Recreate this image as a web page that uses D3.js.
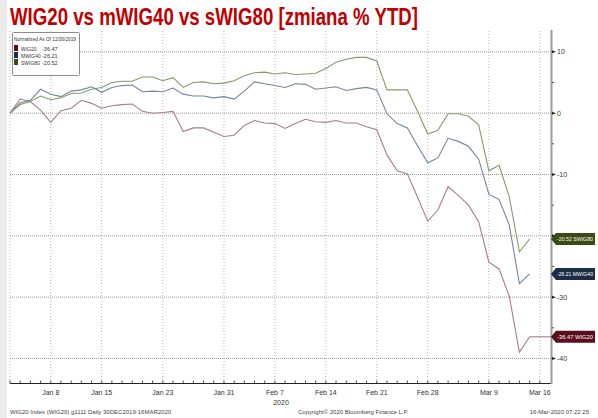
<!DOCTYPE html>
<html>
<head>
<meta charset="utf-8">
<script src="https://cdn.jsdelivr.net/npm/d3@7"></script>
<style>
  body { margin: 0; background: #fff; }
  svg { display: block; font-family: "Liberation Sans", Arial, sans-serif; }
</style>
</head>
<body>
<svg id="chart" width="598" height="418"></svg>
<script>
// trading days (GPW), normalized to 30 Dec 2019
var dates = ["2019-12-30","2020-01-02","2020-01-03","2020-01-07","2020-01-08","2020-01-09","2020-01-10",
  "2020-01-13","2020-01-14","2020-01-15","2020-01-16","2020-01-17",
  "2020-01-20","2020-01-21","2020-01-22","2020-01-23","2020-01-24",
  "2020-01-27","2020-01-28","2020-01-29","2020-01-30","2020-01-31",
  "2020-02-03","2020-02-04","2020-02-05","2020-02-06","2020-02-07",
  "2020-02-10","2020-02-11","2020-02-12","2020-02-13","2020-02-14",
  "2020-02-17","2020-02-18","2020-02-19","2020-02-20","2020-02-21",
  "2020-02-24","2020-02-25","2020-02-26","2020-02-27","2020-02-28",
  "2020-03-02","2020-03-03","2020-03-04","2020-03-05","2020-03-06",
  "2020-03-09","2020-03-10","2020-03-11","2020-03-12","2020-03-13","2020-03-16"];

var wig20 = [0, 2.3, 1.9, 0.5, -1.5, 0.4, 0.8, 2.1, 1.6, 0.8, 1.2, 1.4, 1.5, 0.3, 0.0, 0.1, 0.3,
  -3.0, -2.4, -2.4, -3.1, -3.8, -3.6, -2.0, -1.2, -1.6, -1.7, -2.5, -1.7, -1.0, -1.4, -1.5,
  -1.2, -1.6, -1.6, -2.2, -2.7, -6.8, -9.4, -9.9, -13.7, -17.6, -15.8, -12.0, -13.4, -15.0,
  -17.7, -24.3, -25.4, -29.8, -39.0, -36.47];
var mwig40 = [0, 1.7, 2.1, 3.9, 3.1, 2.7, 3.6, 3.8, 4.3, 3.4, 4.2, 4.5, 4.6, 3.5, 3.6, 3.5, 4.1,
  3.1, 2.8, 2.8, 2.5, 2.7, 2.3, 3.6, 5.1, 4.8, 4.5, 4.2, 4.8, 4.7, 3.9, 4.1, 4.3, 3.7, 4.0,
  4.2, 3.8, -0.1, -1.7, -2.4, -5.3, -8.1, -7.3, -4.1, -4.6, -5.4, -7.5, -13.2, -14.1, -18.2,
  -27.8, -26.21];
var swig80 = [0, 1.4, 1.9, 2.8, 2.2, 2.5, 3.2, 3.3, 3.9, 4.2, 5.0, 5.2, 5.2, 5.9, 5.9, 5.3, 5.8,
  4.2, 5.0, 5.1, 4.8, 4.9, 5.3, 6.1, 6.6, 6.7, 6.4, 6.6, 6.3, 6.4, 6.5, 7.3, 8.3, 8.8, 9.1,
  9.1, 8.5, 3.8, 3.8, 3.8, 0.3, -3.4, -2.8, -0.1, -0.1, -0.5, -1.9, -9.4, -8.5, -13.6,
  -22.6, -20.52];

var seriesNames = ["WIG20", "MWIG40", "SWIG80"];
var seriesData = [wig20, mwig40, swig80];
var lineColors = ["#a97b8b", "#72869c", "#849a6c"];
var flagColors = ["#5b0c1d", "#1b2c45", "#3a4a12"];

var tickDates = ["2020-01-08","2020-01-15","2020-01-23","2020-01-31","2020-02-07",
  "2020-02-14","2020-02-21","2020-02-28","2020-03-09","2020-03-16"];
var tickLabels = ["Jan 8","Jan 15","Jan 23","Jan 31","Feb 7","Feb 14","Feb 21","Feb 28","Mar 9","Mar 16"];
var yTicks = [10, 0, -10, -20, -30, -40];
var yMinor = [5, -5, -15, -25, -35];

var svg = d3.select("#chart");

var x = d3.scaleLinear().domain([0, 53.1]).range([10, 551]);
var y = d3.scaleLinear().domain([-44, 13.4]).range([383, 31]);

// left grey strip
svg.append("rect").attr("x", 0).attr("y", 0).attr("width", 7).attr("height", 418).attr("fill", "#ebebeb");

// title
svg.append("text")
    .attr("x", 10).attr("y", 25)
    .attr("font-size", 24).attr("font-weight", "bold")
    .attr("fill", "#c00000")
    .attr("textLength", 408).attr("lengthAdjust", "spacingAndGlyphs")
    .text("WIG20 vs mWIG40 vs sWIG80 [zmiana % YTD]");

// grid
var grid = svg.append("g");
grid.selectAll(".hg").data(yTicks).enter().append("line")
    .attr("x1", 10).attr("x2", 551)
    .attr("y1", function(d) { return y(d); }).attr("y2", function(d) { return y(d); })
    .attr("stroke", "#9a9a9a").attr("stroke-width", 1).attr("stroke-dasharray", "1,1");

var tickIdx = tickDates.map(function(d) { return dates.indexOf(d); });
grid.selectAll(".vg").data([0].concat(tickIdx)).enter().append("line")
    .attr("x1", function(d) { return x(d); }).attr("x2", function(d) { return x(d); })
    .attr("y1", 31).attr("y2", 383)
    .attr("stroke", "#b5b5b5").attr("stroke-width", 1).attr("stroke-dasharray", "1,2");

// bottom axis
svg.append("line").attr("x1", 10).attr("x2", 551).attr("y1", 383.5).attr("y2", 383.5)
    .attr("stroke", "#222").attr("stroke-width", 1);
svg.selectAll(".mt").data(dates).enter().append("line")
    .attr("x1", function(d, i) { return x(i); }).attr("x2", function(d, i) { return x(i); })
    .attr("y1", 383).attr("y2", 380.5)
    .attr("stroke", "#555").attr("stroke-width", 1);
svg.selectAll(".xl").data(tickLabels).enter().append("text")
    .attr("x", function(d, i) { return x(tickIdx[i]); })
    .attr("y", 395)
    .attr("text-anchor", "middle").attr("font-size", 7).attr("fill", "#333")
    .text(function(d) { return d; });
svg.append("text").attr("x", 281).attr("y", 405).attr("text-anchor", "middle")
    .attr("font-size", 7).attr("fill", "#333").text("2020");

// right axis
var flagY = seriesData.map(function(s) { return y(s[s.length - 1]); });
svg.append("line").attr("x1", 551.5).attr("x2", 551.5).attr("y1", 30).attr("y2", 384)
    .attr("stroke", "#9c9c9c").attr("stroke-width", 2);
svg.selectAll(".ymt").data(yMinor).enter().append("line")
    .attr("x1", 552).attr("x2", 554)
    .attr("y1", function(d) { return y(d); }).attr("y2", function(d) { return y(d); })
    .attr("stroke", "#555");
svg.selectAll(".ytk").data(yTicks).enter().append("path")
    .attr("d", function(d) { var c = y(d); return "M552," + (c - 1.5) + "L556," + c + "L552," + (c + 1.5) + "Z"; })
    .attr("fill", "#222");
// labels hidden behind a value flag are skipped
var shownTicks = yTicks.filter(function(d) {
    return !flagY.some(function(f) { return Math.abs(f - y(d)) < 9; });
});
svg.selectAll(".yl").data(shownTicks).enter().append("text")
    .attr("x", 557).attr("y", function(d) { return y(d) + 2.5; })
    .attr("font-size", 7).attr("fill", "#333")
    .text(function(d) { return d; });

// series lines
var line = d3.line()
    .x(function(d, i) { return x(i); })
    .y(function(d) { return y(d); });
svg.selectAll(".series").data(seriesData).enter().append("path")
    .attr("d", function(d) { return line(d); })
    .attr("fill", "none")
    .attr("stroke", function(d, i) { return lineColors[i]; })
    .attr("stroke-width", 1.1);

// last value line for WIG20
var last = wig20.length - 1;
svg.append("line")
    .attr("x1", x(last)).attr("x2", 551)
    .attr("y1", y(wig20[last])).attr("y2", y(wig20[last]))
    .attr("stroke", lineColors[0]).attr("stroke-width", 1.1);

// value flags
var flags = svg.append("g");
seriesData.forEach(function(s, i) {
    var v = s[s.length - 1];
    var c = flagY[i];
    flags.append("path")
        .attr("d", "M551," + c + "L556," + (c - 6) + "L595," + (c - 6) + "L595," + (c + 6) + "L556," + (c + 6) + "Z")
        .attr("fill", flagColors[i]);
    flags.append("text")
        .attr("x", 557).attr("y", c + 2.3)
        .attr("font-size", 5.4).attr("fill", "#fff")
        .attr("textLength", 36).attr("lengthAdjust", "spacingAndGlyphs")
        .text(v.toFixed(2) + " " + seriesNames[i]);
});

// legend
var lg = svg.append("g");
lg.append("rect").attr("x", 12.5).attr("y", 32.5).attr("width", 67).attr("height", 43)
    .attr("fill", "#fff").attr("stroke", "#8c8c8c").attr("stroke-width", 1).attr("rx", 1);
lg.append("text").attr("x", 14).attr("y", 41).attr("font-size", 5.5).attr("fill", "#333")
    .attr("textLength", 62).attr("lengthAdjust", "spacingAndGlyphs")
    .text("Normalized As Of 12/30/2019");
seriesNames.forEach(function(n, i) {
    var s = seriesData[i];
    var ry = 49 + i * 7;
    lg.append("rect").attr("x", 14).attr("y", ry - 4).attr("width", 4).attr("height", 6).attr("fill", flagColors[i]);
    lg.append("text").attr("x", 21).attr("y", ry + 1.5).attr("font-size", 5).attr("fill", "#333").text(n);
    lg.append("text").attr("x", 42).attr("y", ry + 1.5).attr("font-size", 5.5).attr("fill", "#333")
        .text(s[s.length - 1].toFixed(2));
});

// footer
svg.append("text").attr("x", 10).attr("y", 414).attr("font-size", 6).attr("fill", "#444")
    .text("WIG20 Index (WIG20) g1111  Daily 30DEC2019-16MAR2020");
svg.append("text").attr("x", 298).attr("y", 414).attr("font-size", 6).attr("fill", "#444")
    .text("Copyright\u00a9 2020 Bloomberg Finance L.P.");
svg.append("text").attr("x", 589).attr("y", 414).attr("text-anchor", "end").attr("font-size", 6).attr("fill", "#444")
    .text("16-Mar-2020 07:22:25");
</script>
</body>
</html>
